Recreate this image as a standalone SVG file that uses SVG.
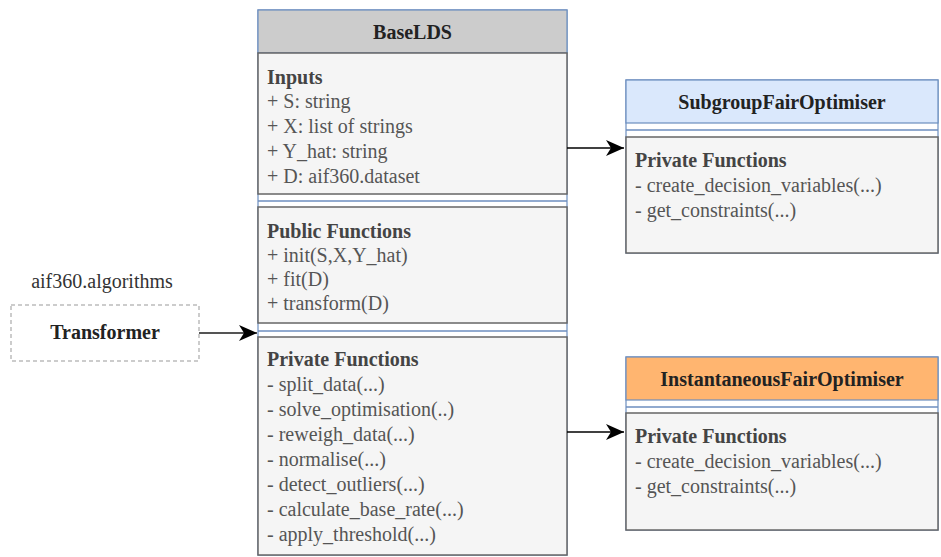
<svg xmlns="http://www.w3.org/2000/svg" width="941" height="557" viewBox="0 0 941 557">
<style>
.cont{fill:#ffffff;stroke:#6c8ebf;stroke-width:1.2}
.sec{fill:#f5f5f5;stroke:#666666;stroke-width:1.5}
.sep{stroke:#6c8ebf;stroke-width:1.5}
.hd{font-family:"Liberation Serif","Times New Roman",serif;font-size:20px;font-weight:bold;fill:#222;text-anchor:middle}
.sh{font-family:"Liberation Serif","Times New Roman",serif;font-size:20px;font-weight:bold;fill:#444}
.tx{font-family:"Liberation Serif","Times New Roman",serif;font-size:20px;fill:#555}
.lbl{font-family:"Liberation Serif","Times New Roman",serif;font-size:20px;fill:#333;text-anchor:middle}
.conn{fill:none;stroke:#000;stroke-width:1.5}
</style>
<defs>
<marker id="arr" markerUnits="userSpaceOnUse" markerWidth="20" markerHeight="18" refX="18" refY="8" orient="auto">
<path d="M0,0 L18,8 L0,16 L5,8 Z" fill="#000"/>
</marker>
</defs>

<g id="transformer">
<text class="lbl" x="102" y="288">aif360.algorithms</text>
<rect x="11" y="305" width="188" height="56" fill="#ffffff" stroke="#999" stroke-width="1" stroke-dasharray="4,3"/>
<text class="hd" x="105" y="339">Transformer</text>
</g>

<g id="baselds">
<rect class="cont" x="258" y="10" width="309" height="545"/>
<rect x="258" y="10" width="309" height="43" fill="#cccccc" stroke="#6c8ebf" stroke-width="1.2"/>
<text class="hd" x="412.5" y="39">BaseLDS</text>
<rect class="sec" x="258" y="53" width="309" height="141"/>
<text class="sh" x="267" y="84">Inputs</text>
<text class="tx" x="267" y="108">+ S: string</text>
<text class="tx" x="267" y="133">+ X: list of strings</text>
<text class="tx" x="267" y="158">+ Y_hat: string</text>
<text class="tx" x="267" y="183">+ D: aif360.dataset</text>
<line class="sep" x1="258" y1="201" x2="567" y2="201"/>
<rect class="sec" x="258" y="207" width="309" height="116"/>
<text class="sh" x="267" y="238">Public Functions</text>
<text class="tx" x="267" y="262">+ init(S,X,Y_hat)</text>
<text class="tx" x="267" y="286">+ fit(D)</text>
<text class="tx" x="267" y="310">+ transform(D)</text>
<line class="sep" x1="258" y1="331" x2="567" y2="331"/>
<rect class="sec" x="258" y="337" width="309" height="218"/>
<text class="sh" x="267" y="366">Private Functions</text>
<text class="tx" x="267" y="391">- split_data(...)</text>
<text class="tx" x="267" y="416">- solve_optimisation(..)</text>
<text class="tx" x="267" y="441">- reweigh_data(...)</text>
<text class="tx" x="267" y="466">- normalise(...)</text>
<text class="tx" x="267" y="491">- detect_outliers(...)</text>
<text class="tx" x="267" y="516">- calculate_base_rate(...)</text>
<text class="tx" x="267" y="541">- apply_threshold(...)</text>
</g>

<g id="subgroup">
<rect class="cont" x="626" y="80" width="312" height="173"/>
<rect x="626" y="80" width="312" height="43" fill="#dae8fc" stroke="#6c8ebf" stroke-width="1.2"/>
<text class="hd" x="782" y="109">SubgroupFairOptimiser</text>
<line class="sep" x1="626" y1="130" x2="938" y2="130"/>
<rect class="sec" x="626" y="137" width="312" height="116"/>
<text class="sh" x="635" y="167">Private Functions</text>
<text class="tx" x="635" y="192">- create_decision_variables(...)</text>
<text class="tx" x="635" y="217">- get_constraints(...)</text>
</g>

<g id="instantaneous">
<rect class="cont" x="626" y="357" width="312" height="173"/>
<rect x="626" y="357" width="312" height="43" fill="#ffb570" stroke="#6c8ebf" stroke-width="1.2"/>
<text class="hd" x="782" y="386">InstantaneousFairOptimiser</text>
<line class="sep" x1="626" y1="407" x2="938" y2="407"/>
<rect class="sec" x="626" y="413" width="312" height="117"/>
<text class="sh" x="635" y="443">Private Functions</text>
<text class="tx" x="635" y="468">- create_decision_variables(...)</text>
<text class="tx" x="635" y="493">- get_constraints(...)</text>
</g>

<g id="connectors">
<line x1="199" y1="333" x2="257" y2="333" style="fill:none;stroke:#555;stroke-width:2.2" marker-end="url(#arr)"/>
<line class="conn" x1="567" y1="148" x2="624" y2="148" marker-end="url(#arr)"/>
<line class="conn" x1="567" y1="432" x2="624" y2="432" marker-end="url(#arr)"/>
</g>
</svg>
